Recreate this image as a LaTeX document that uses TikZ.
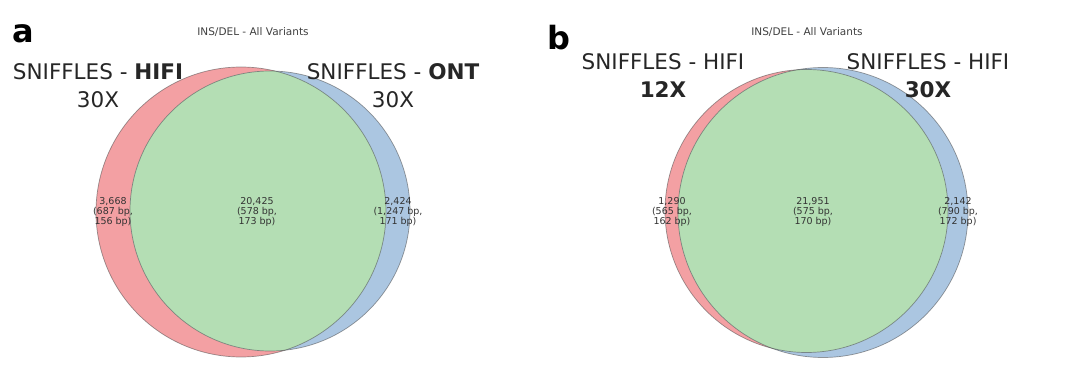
\documentclass[tikz,border=0pt]{standalone}
\usepackage{fontspec}
\setmainfont{DejaVu Sans}
\definecolor{redc}{HTML}{F3A0A3}
\definecolor{bluec}{HTML}{ABC6E1}
\definecolor{greenc}{HTML}{B4DEB4}
\begin{document}
\begin{tikzpicture}[x=1pt,y=-1pt,
  lab/.style={font=\fontsize{21.5}{28}\selectfont, text=black!85, align=center},
  num/.style={font=\fontsize{9.5}{10}\selectfont, text=black!80, align=center, inner sep=0pt},
  ttl/.style={font=\fontsize{10.5}{12}\selectfont, text=black!75},
  pan/.style={font=\fontsize{32}{36}\selectfont\bfseries, text=black, inner sep=0pt},
  vedge/.style={draw=black!70, draw opacity=0.55, line width=0.7pt}]
\useasboundingbox[fill=white] (0,0) rectangle (1080,390);
% panel a
\fill[redc] (241,212) circle (145);
\fill[bluec] (270,211) circle (140);
\begin{scope}
  \clip (241,212) circle (145);
  \fill[greenc] (270,211) circle (140);
\end{scope}
\draw[vedge] (241,212) circle (145);
\draw[vedge] (270,211) circle (140);
\node[pan, anchor=base west] (pa) at (12,43) {a};
\node[ttl] (ta) at (253,32) {INS/DEL - All Variants};
\node[lab] (la) at (98,86) {SNIFFLES - \textbf{HIFI}\\30X};
\node[lab] (ra) at (393,86) {SNIFFLES - \textbf{ONT}\\30X};
\node[num] (na1) at (113,212) {3,668\\(687 bp,\\156 bp)};
\node[num] (na2) at (257,212) {20,425\\(578 bp,\\173 bp)};
\node[num] (na3) at (398,212) {2,424\\(1,247 bp,\\171 bp)};
% panel b
\fill[redc] (806.5,211) circle (141.5);
\fill[bluec] (823,212.5) circle (145);
\begin{scope}
  \clip (806.5,211) circle (141.5);
  \fill[greenc] (823,212.5) circle (145);
\end{scope}
\draw[vedge] (806.5,211) circle (141.5);
\draw[vedge] (823,212.5) circle (145);
\node[pan, anchor=base west] (pb) at (547,50) {b};
\node[ttl] (tb) at (807,32) {INS/DEL - All Variants};
\node[lab] (lb) at (663,76) {SNIFFLES - HIFI\\\textbf{12X}};
\node[lab] (rb) at (928,76) {SNIFFLES - HIFI\\\textbf{30X}};
\node[num] (nb1) at (672,212) {1,290\\(565 bp,\\162 bp)};
\node[num] (nb2) at (813,212) {21,951\\(575 bp,\\170 bp)};
\node[num] (nb3) at (958,212) {2,142\\(790 bp,\\172 bp)};
\end{tikzpicture}
\end{document}
